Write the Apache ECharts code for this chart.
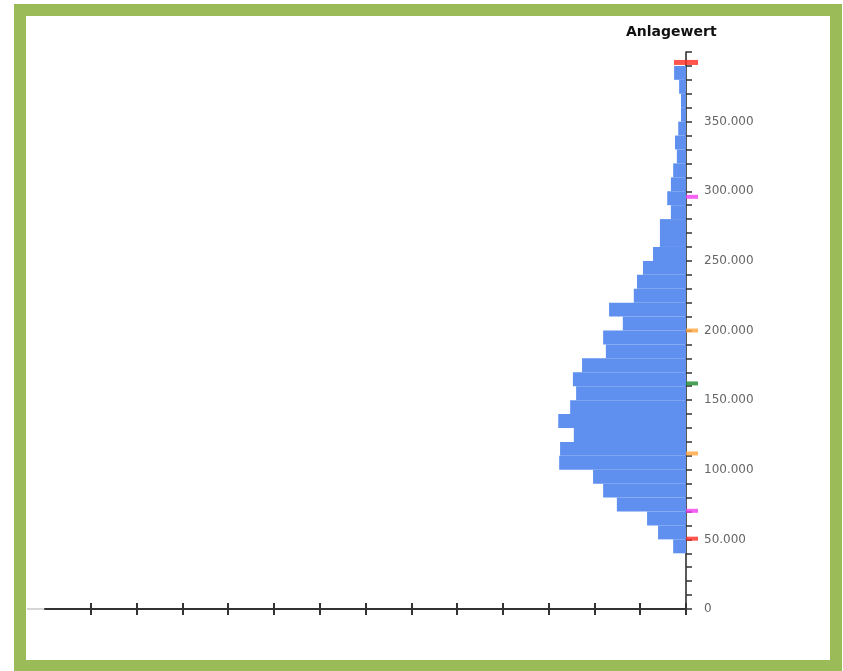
<!DOCTYPE html>
<html>
<head>
<meta charset="utf-8">
<script src="https://cdn.jsdelivr.net/npm/echarts@6/dist/echarts.min.js"></script>
<style>
  html, body { margin: 0; padding: 0; background: #ffffff; }
  #chart { position: absolute; left: 0; top: 0; width: 843px; height: 671px; }
  #frame {
    position: absolute; left: 14px; top: 4px; width: 828px; height: 668px;
    box-sizing: border-box; border: 12px solid #9bbb59; pointer-events: none;
  }
</style>
</head>
<body>
<div id="chart"></div>
<div id="frame"></div>
<script>
// Histogram of asset values (Anlagewert), 10.000-wide bins
const binStarts = [40000, 50000, 60000, 70000, 80000, 90000, 100000, 110000, 120000, 130000,
  140000, 150000, 160000, 170000, 180000, 190000, 200000, 210000, 220000, 230000,
  240000, 250000, 260000, 270000, 280000, 290000, 300000, 310000, 320000, 330000,
  340000, 350000, 360000, 370000, 380000];
const binWidth = 10000;
const binCounts = [2.8, 6.1, 8.5, 15.1, 18.1, 20.3, 27.7, 27.5, 24.5, 27.9,
  25.3, 24.0, 24.7, 22.7, 17.5, 18.1, 13.8, 16.8, 11.4, 10.7,
  9.4, 7.2, 5.7, 5.7, 3.3, 4.1, 3.3, 2.8, 2.0, 2.4,
  1.7, 1.1, 1.1, 1.5, 2.6];

// Reference markers on the value axis
const markerValues = [392500, 50500, 296000, 70500, 200000, 111700, 162000];
const markerColors = ['#ff2a1f', '#ff2a1f', '#f23cf0', '#f23cf0', '#ffa23a', '#ffa23a', '#1d8a2c'];

// Axis ticks
const yTicks = [0, 50000, 100000, 150000, 200000, 250000, 300000, 350000, 400000];
const xTickValues = [0, 10, 20, 30, 40, 50, 60, 70, 80, 90, 100, 110, 120, 130];

const fmt = v => v === 0 ? '0' : String(v).replace(/\B(?=(\d{3})+(?!\d))/g, '.');

const barData = binStarts.map((s, i) => [s, s + binWidth, binCounts[i]]);
const markerData = markerValues.map((v, i) => ({
  value: [0, v],
  symbolSize: i === 0 ? [24, 5] : [12, 4],
  symbolOffset: i === 0 ? [0, 0] : [6, 0],
  itemStyle: { color: markerColors[i] }
}));

const chart = echarts.init(document.getElementById('chart'), null, { renderer: 'canvas' });
chart.setOption({
  animation: false,
  backgroundColor: '#ffffff',
  title: {
    text: 'Anlagewert', left: 626, top: 25, padding: 0,
    textStyle: { fontFamily: 'DejaVu Sans', fontWeight: 'bold', fontSize: 14, color: '#111' }
  },
  grid: { left: 45, right: 157, top: 52, bottom: 62 },
  xAxis: [
    {
      type: 'value', inverse: true, min: 0, max: 140, interval: 10,
      axisLine: { show: true, lineStyle: { color: '#333', width: 2 } },
      axisTick: { show: true, inside: true, length: 6, customValues: xTickValues, lineStyle: { color: '#333', width: 2 } },
      axisLabel: { show: false },
      splitLine: { show: false }
    },
    {
      type: 'value', inverse: true, min: 0, max: 140, interval: 10, position: 'bottom',
      axisLine: { show: false },
      axisTick: { show: true, inside: false, length: 6, customValues: xTickValues, lineStyle: { color: '#333', width: 2 } },
      axisLabel: { show: false },
      splitLine: { show: false }
    }
  ],
  yAxis: {
    type: 'value', position: 'right', min: 0, max: 400000, interval: 50000,
    axisLine: { show: true, onZero: false, lineStyle: { color: '#222', width: 1.5 } },
    axisTick: { show: true, inside: false, length: 6, lineStyle: { color: '#333', width: 1.5 } },
    minorTick: { show: true, splitNumber: 5, length: 6, lineStyle: { color: '#333', width: 1.5 } },
    axisLabel: {
      margin: 18, color: '#666', fontFamily: 'DejaVu Sans', fontSize: 12,
      formatter: v => (yTicks.indexOf(v) >= 0 && v < 400000) ? fmt(v) : ''
    },
    splitLine: { show: false }
  },
  graphic: [{
    type: 'line', z: 0,
    shape: { x1: 27, y1: 609, x2: 46, y2: 609 },
    style: { stroke: '#d6d6d6', lineWidth: 2 }
  }],
  series: [
    {
      type: 'custom',
      xAxisIndex: 0,
      data: barData,
      encode: { x: 2, y: [0, 1] },
      renderItem: (params, api) => {
        const lo = api.value(0), hi = api.value(1), n = api.value(2);
        const p0 = api.coord([0, lo]);
        const p1 = api.coord([n, hi]);
        return {
          type: 'rect',
          shape: { x: p1[0], y: p1[1], width: p0[0] - p1[0], height: p0[1] - p1[1] },
          style: { fill: '#5f90ef' }
        };
      }
    },
    {
      type: 'scatter',
      xAxisIndex: 0,
      symbol: 'rect',
      z: 5,
      data: markerData
    }
  ]
});
</script>
</body>
</html>
